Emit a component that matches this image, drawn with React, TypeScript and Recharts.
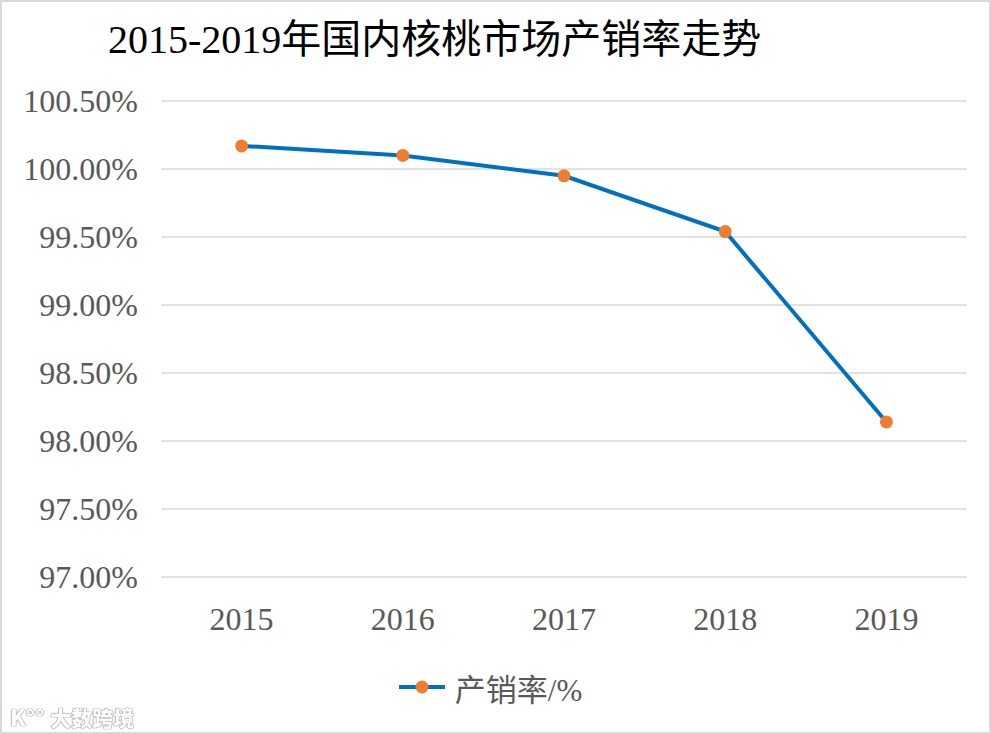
import React from "react";
import { LineChart, Line, XAxis, YAxis, CartesianGrid, Legend } from "recharts";

const years = ["2015", "2016", "2017", "2018", "2019"];
const sellRate = [100.17, 100.1, 99.95, 99.54, 98.14];
const yTicks = [97, 97.5, 98, 98.5, 99, 99.5, 100, 100.5];

const data = years.map((year, i) => ({ year, rate: sellRate[i] }));

const serif = '"Liberation Serif", "Times New Roman", "Noto Sans CJK SC", serif';

function LegendContent() {
  return (
    <div style={{ display: "flex", alignItems: "center", justifyContent: "center", height: 60, paddingRight: 10 }}>
      <svg width={46} height={14} style={{ marginRight: 10 }}>
        <line x1={0} y1={7} x2={46} y2={7} stroke="#0070c0" strokeWidth={4} />
        <circle cx={23} cy={7} r={6.5} fill="#ed7d31" />
      </svg>
      <span style={{ fontFamily: serif, fontSize: 31, color: "#595959" }}>产销率/%</span>
    </div>
  );
}

export default function App() {
  return (
    <div style={{ position: "relative", width: 991, height: 734, background: "#fff" }}>
      <style>{`body{margin:0}`}</style>
      <div
        style={{
          position: "absolute",
          left: 108,
          top: 14,
          fontFamily: serif,
          fontSize: 40,
          lineHeight: "52px",
          color: "#000",
          whiteSpace: "nowrap",
        }}
      >
        2015-2019年国内核桃市场产销率走势
      </div>
      <LineChart
        width={991}
        height={734}
        data={data}
        margin={{ top: 101, right: 24, left: 11, bottom: 10 }}
      >
        <CartesianGrid vertical={false} stroke="#d9d9d9" strokeWidth={1.5} />
        <XAxis
          dataKey="year"
          scale="band"
          axisLine={false}
          tickLine={false}
          tickSize={0}
          tickMargin={30}
          height={87}
          tick={{ fill: "#595959", fontSize: 32, fontFamily: serif }}
        />
        <YAxis
          width={150}
          domain={[97, 100.5]}
          ticks={yTicks}
          allowDataOverflow
          axisLine={false}
          tickLine={false}
          tickSize={0}
          tickMargin={23}
          tickFormatter={(v: number) => v.toFixed(2) + "%"}
          tick={{ fill: "#595959", fontSize: 32, fontFamily: serif }}
        />
        <Legend
          verticalAlign="bottom"
          height={60}
          content={() => <LegendContent />}
          wrapperStyle={{ top: 657, left: 0, width: 991 }}
        />
        <Line
          dataKey="rate"
          name="产销率/%"
          stroke="#0070c0"
          strokeWidth={4}
          dot={{ r: 6.5, fill: "#ed7d31", stroke: "none", strokeWidth: 0 }}
          activeDot={false}
          isAnimationActive={false}
        />
      </LineChart>
      <div
        style={{
          position: "absolute",
          left: 10,
          top: 700,
          fontFamily: '"Noto Sans CJK SC", sans-serif',
          fontWeight: 900,
          fontSize: 21,
          color: "#fff",
          textShadow: "0 0 1px #888, 0 0 1px #888, 0 0 1px #888",
          whiteSpace: "nowrap",
        }}
      >
        <span style={{ fontSize: 22, marginRight: 6 }}>K°°</span>大数跨境
      </div>
      <div
        style={{
          position: "absolute",
          inset: 0,
          border: "2px solid #d9d9d9",
          pointerEvents: "none",
        }}
      />
    </div>
  );
}
